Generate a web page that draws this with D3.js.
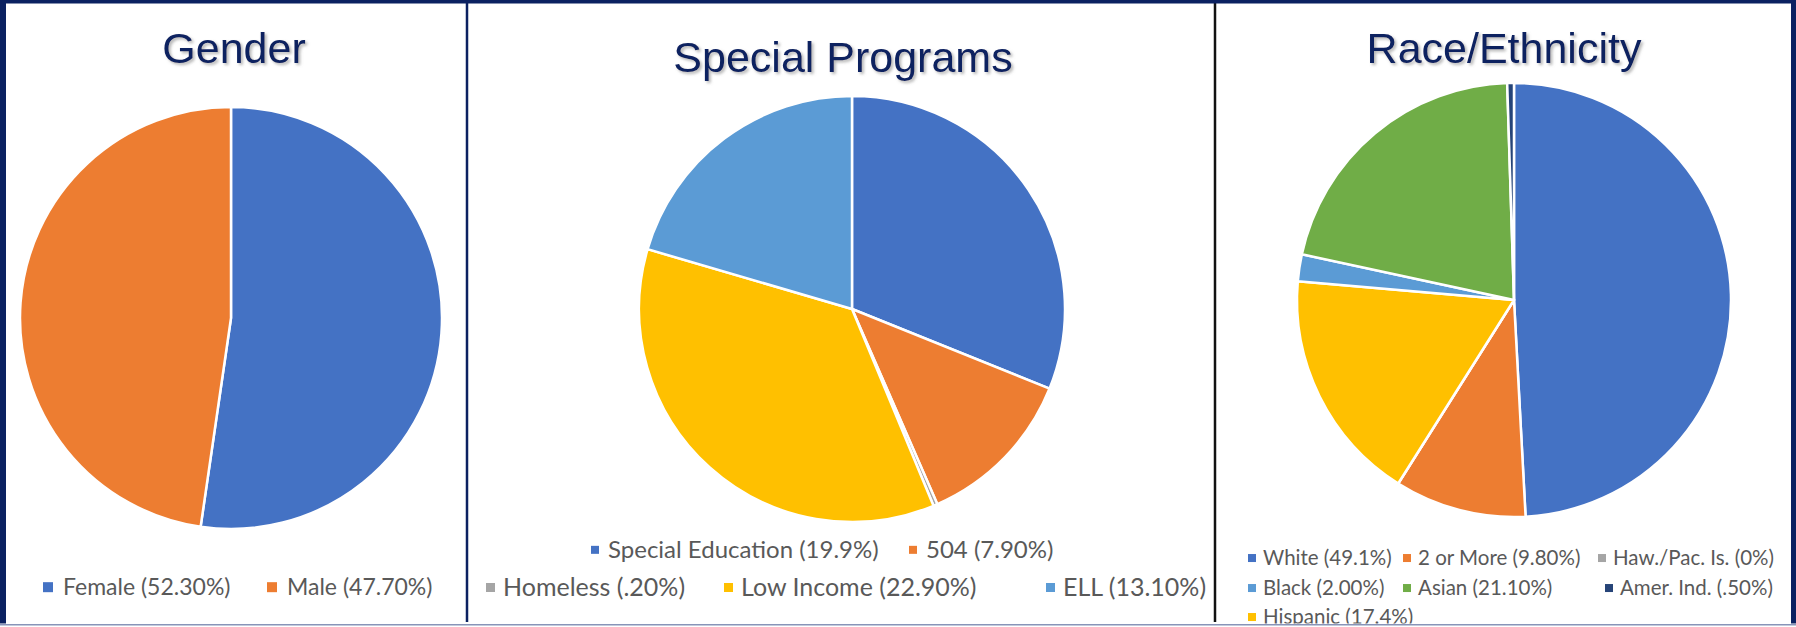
<!DOCTYPE html>
<html>
<head>
<meta charset="utf-8">
<script src="https://cdn.jsdelivr.net/npm/d3@7"></script>
<style>
  html, body { margin: 0; padding: 0; background: #fff; overflow: hidden; }
</style>
</head>
<body>
<div id="chart"></div>
<script>
// data
const genderLabels = ["Female (52.30%)", "Male (47.70%)"];
const genderValues = [52.3, 47.7];
const genderColors = ["#4472C4", "#ED7D31"];

const programLabels = ["Special Education (19.9%)", "504 (7.90%)", "Homeless (.20%)", "Low Income (22.90%)", "ELL (13.10%)"];
const programValues = [19.9, 7.9, 0.2, 22.9, 13.1];
const programColors = ["#4472C4", "#ED7D31", "#A5A5A5", "#FFC000", "#5B9BD5"];

const raceLabels = ["White (49.1%)", "2 or More (9.80%)", "Haw./Pac. Is. (0%)", "Black (2.00%)", "Asian (21.10%)", "Amer. Ind. (.50%)", "Hispanic (17.4%)"];
const raceValues = [49.1, 9.8, 0, 2.0, 21.1, 0.5, 17.4];
const raceColors = ["#4472C4", "#ED7D31", "#A5A5A5", "#5B9BD5", "#70AD47", "#264478", "#FFC000"];
// slices go round the pie in another order than the legend
const raceSliceOrder = [0, 1, 2, 6, 3, 4, 5];

const W = 1796, H = 627;
const navy = "#0b2161";

const svg = d3.select("#chart").append("svg")
    .attr("width", W)
    .attr("height", H);

svg.append("defs").append("filter")
    .attr("id", "shadow")
    .attr("x", "-10%").attr("y", "-20%").attr("width", "130%").attr("height", "150%")
    .append("feDropShadow")
    .attr("dx", 2).attr("dy", 2).attr("stdDeviation", 1.5)
    .attr("flood-color", "#777").attr("flood-opacity", 0.55);

const panels = [
    {
        title: "Gender", tx: 234, ty: 63,
        cx: 231, cy: 318, r: 211,
        labels: genderLabels, values: genderValues, colors: genderColors,
        order: [0, 1],
        rows: [{ y: 595, size: 23, sq: 10, gap: 10, items: [[0, 43], [1, 267]] }]
    },
    {
        title: "Special Programs", tx: 843, ty: 72,
        cx: 852, cy: 309, r: 213,
        labels: programLabels, values: programValues, colors: programColors,
        order: [0, 1, 2, 3, 4],
        rows: [
            { y: 558, size: 24, sq: 8, gap: 9, items: [[0, 591], [1, 909]] },
            { y: 596, size: 25, sq: 9, gap: 8, items: [[2, 486], [3, 724], [4, 1046]] }
        ]
    },
    {
        title: "Race/Ethnicity", tx: 1504, ty: 63,
        cx: 1514, cy: 300, r: 217,
        labels: raceLabels, values: raceValues, colors: raceColors,
        order: raceSliceOrder,
        rows: [
            { y: 565, size: 20.5, sq: 8, gap: 7, items: [[0, 1248], [1, 1403], [2, 1598]] },
            { y: 595, size: 20.5, sq: 8, gap: 7, items: [[3, 1248], [4, 1403], [5, 1605]] },
            { y: 624, size: 20.5, sq: 8, gap: 7, items: [[6, 1248]] }
        ]
    }
];

panels.forEach(p => {
    const g = svg.append("g");

    // title
    g.append("text")
        .attr("x", p.tx)
        .attr("y", p.ty)
        .attr("text-anchor", "middle")
        .attr("font-family", "Liberation Sans, Arial, sans-serif")
        .attr("font-size", "43px")
        .attr("fill", navy)
        .attr("filter", "url(#shadow)")
        .text(p.title);

    // pie
    const pie = d3.pie()
        .sort(null)
        .value(i => p.values[i]);
    const arc = d3.arc()
        .innerRadius(0)
        .outerRadius(p.r);

    g.append("g")
        .attr("transform", "translate(" + p.cx + "," + p.cy + ")")
        .selectAll("path")
        .data(pie(p.order))
        .enter()
        .append("path")
        .attr("d", arc)
        .attr("fill", d => p.colors[d.data])
        .attr("stroke", "#fff")
        .attr("stroke-width", 2.5)
        .attr("stroke-linejoin", "round");

    // legend
    p.rows.forEach(row => {
        row.items.forEach(([i, x]) => {
            g.append("rect")
                .attr("x", x)
                .attr("y", row.y - row.size * 0.34 - row.sq / 2)
                .attr("width", row.sq)
                .attr("height", row.sq)
                .attr("fill", p.colors[i]);
            g.append("text")
                .attr("x", x + row.sq + row.gap)
                .attr("y", row.y)
                .attr("font-family", "Lato, sans-serif")
                .attr("font-size", row.size + "px")
                .attr("fill", "#595959")
                .text(p.labels[i]);
        });
    });
});

// frame and dividers
svg.append("line")
    .attr("x1", 467).attr("x2", 467).attr("y1", 3).attr("y2", 622)
    .attr("stroke", navy).attr("stroke-width", 2.5);
svg.append("line")
    .attr("x1", 1215).attr("x2", 1215).attr("y1", 3).attr("y2", 622)
    .attr("stroke", "#111").attr("stroke-width", 2.5);

svg.append("rect").attr("x", 0).attr("y", 0).attr("width", W).attr("height", 3.5).attr("fill", navy);
svg.append("rect").attr("x", 0).attr("y", 0).attr("width", 6).attr("height", H).attr("fill", navy);
svg.append("rect").attr("x", W - 5).attr("y", 0).attr("width", 5).attr("height", H).attr("fill", navy);
svg.append("rect").attr("x", 0).attr("y", 623.5).attr("width", W).attr("height", 3.5).attr("fill", "#fff");
svg.append("rect").attr("x", 0).attr("y", 624).attr("width", W).attr("height", 1.5).attr("fill", "#8794b8");
</script>
</body>
</html>
